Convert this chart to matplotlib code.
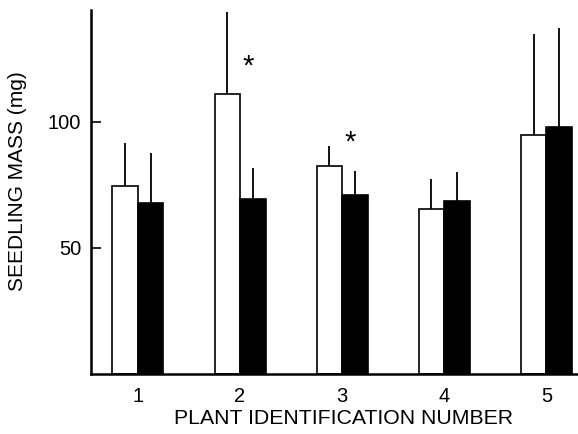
import numpy as np
import matplotlib
matplotlib.use('Agg')
import matplotlib.pyplot as plt

plt.rcParams['font.family'] = ['Liberation Sans', 'DejaVu Sans']

# Data
plants = [1, 2, 3, 4, 5]
open_means = [74.5, 111, 82.5, 65.5, 94.8]
open_upper = [91.7, 143.6, 90.5, 77.4, 135]
filled_means = [68, 69.4, 71, 68.6, 98]
filled_upper = [87.7, 81.7, 80.5, 80, 137.3]
star_plants = [2, 3]
star_heights = [122, 92]

fig = plt.figure(figsize=(5.78, 4.34), dpi=100)
ax = fig.add_axes([91 / 578, 60 / 434, 487 / 578, 364 / 434])

x = np.array(plants, dtype=float)
w = 0.25

ax.bar(x - w / 2, open_means, width=w, color='white', edgecolor='black', linewidth=1.2, zorder=2)
ax.bar(x + w / 2, filled_means, width=w, color='black', edgecolor='black', linewidth=1.2, zorder=2)

# one-sided error bars (upward only, no caps)
ax.vlines(x - w / 2, open_means, open_upper, color='black', linewidth=1.3, zorder=3)
ax.vlines(x + w / 2, filled_means, filled_upper, color='black', linewidth=1.3, zorder=3)

# significance stars
for p, h in zip(star_plants, star_heights):
    ax.text(p + 0.08, h, '*', fontsize=21, ha='center', va='center')

ax.set_xlim(0.54, 5.31)
ax.set_ylim(0, 144.4)
ax.set_yticks([50, 100])
ax.set_xticks(plants)
ax.tick_params(axis='y', direction='in', length=7, width=1.2, labelsize=14.5, pad=7)
ax.tick_params(axis='x', length=0, labelsize=14.5, pad=9)

ax.spines['top'].set_visible(False)
ax.spines['right'].set_visible(False)
ax.spines['left'].set_linewidth(1.8)
ax.spines['bottom'].set_linewidth(1.8)

ax.set_xlabel('PLANT IDENTIFICATION NUMBER', fontsize=15.3)
ax.xaxis.set_label_coords(0.5195, -0.096)
ax.set_ylabel('SEEDLING MASS (mg)', fontsize=15, va='center')
ax.yaxis.set_label_coords(-0.151, 0.53)

fig.savefig('out.png', dpi=100)
